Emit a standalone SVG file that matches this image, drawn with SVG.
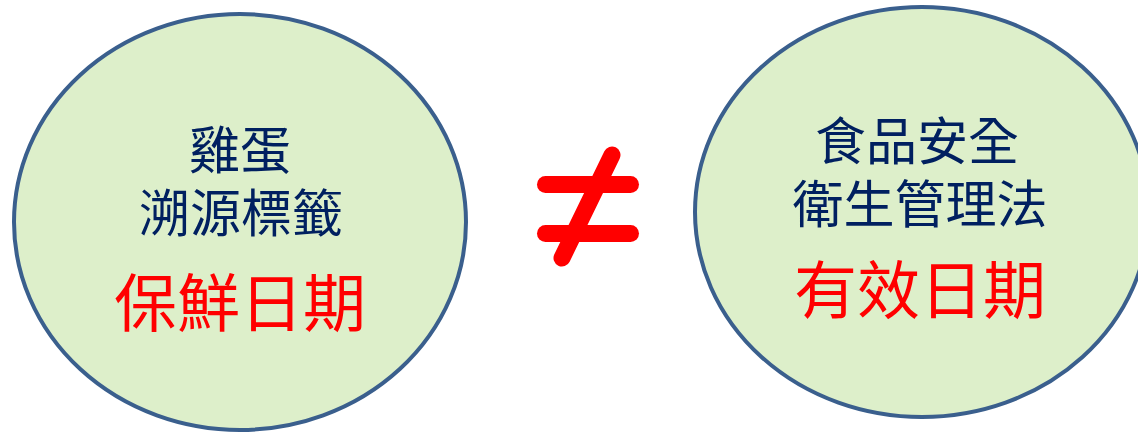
<svg xmlns="http://www.w3.org/2000/svg" width="1138" height="435" viewBox="0 0 1138 435">
<style>
.node{fill:#ddefca;stroke:#3a5f8d;stroke-width:4}
.t{font-family:"Noto Sans CJK TC","Noto Sans CJK SC",sans-serif;text-anchor:middle;dominant-baseline:central}
.navy{fill:#002060;font-size:51px}
.red{fill:#ff0000;font-size:63px}
.neq{stroke:#ff0000;stroke-width:17;stroke-linecap:round;fill:none}
</style>
<rect width="1138" height="435" fill="#ffffff"/>
<g id="left">
<ellipse class="node" cx="240" cy="222" rx="226" ry="208"/>
<text class="t navy" x="240" y="147">雞蛋</text>
<text class="t navy" x="241" y="210">溯源標籤</text>
<text class="t red" x="240" y="298">保鮮日期</text>
</g>
<g id="right">
<ellipse class="node" cx="922" cy="212" rx="227" ry="205"/>
<text class="t navy" x="917" y="138">食品安全</text>
<text class="t navy" x="920" y="201">衛生管理法</text>
<text class="t red" x="920" y="285">有效日期</text>
</g>
<g id="connectors">
<g id="not-equal">
<line class="neq" x1="545.5" y1="184.5" x2="630.5" y2="184.5"/>
<line class="neq" x1="545.5" y1="233.5" x2="630.5" y2="233.5"/>
<line class="neq" x1="612" y1="155" x2="562" y2="258"/>
</g>
</g>
</svg>
